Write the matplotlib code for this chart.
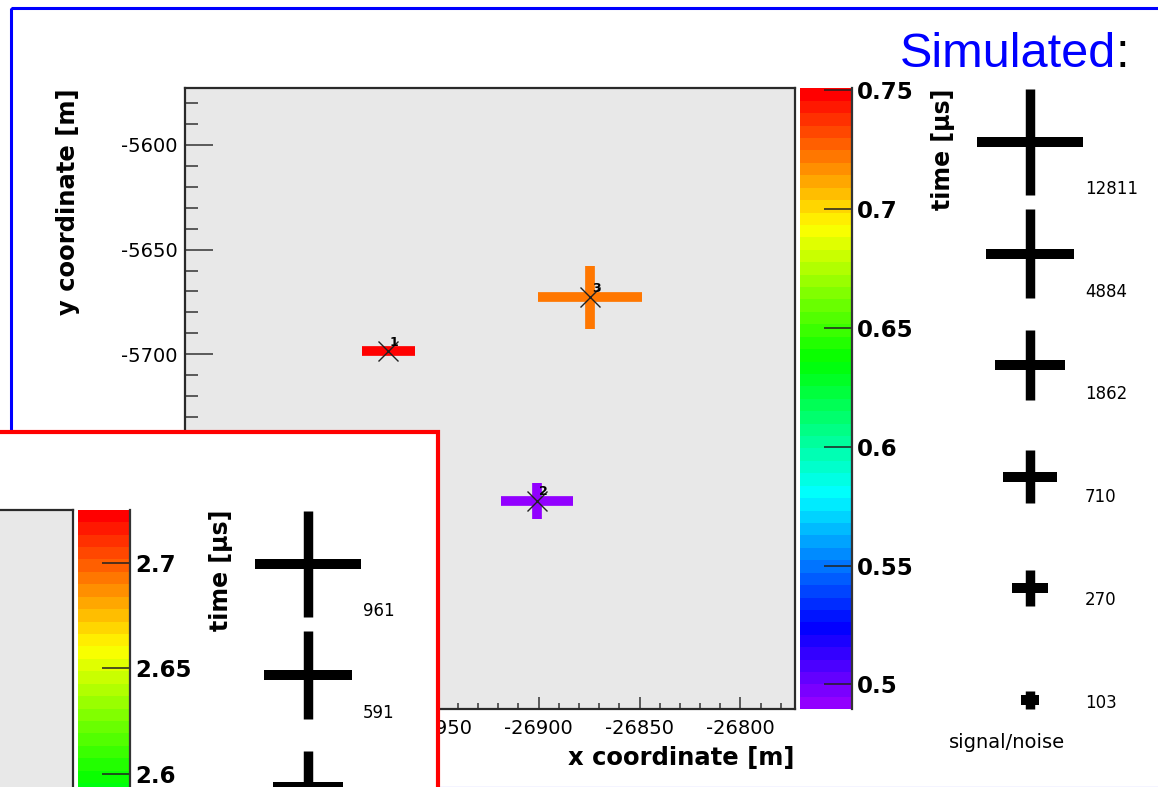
import colorsys
import matplotlib
matplotlib.use('Agg')
import matplotlib.pyplot as plt
from matplotlib.colors import ListedColormap, Normalize
from matplotlib.cm import ScalarMappable
from matplotlib.patches import Rectangle
from matplotlib.ticker import MultipleLocator, FuncFormatter

plt.rcParams['axes.unicode_minus'] = False
plt.rcParams['font.family'] = ['DejaVu Sans']

W, H = 1158, 787
DPI = 100

# reconstructed station positions [m], position errors [m] and pulse times [us]
station_ids = ['1', '2', '3']
station_x = [-26974.5, -26900.8, -26874.4]
station_y = [-5698.5, -5770.0, -5672.7]
station_xerr = [13.2, 17.7, 25.8]
station_yerr = [2.0, 8.7, 15.0]
station_time = [0.7508, 0.4895, 0.720]

x_range = (-27075.4, -26773.0)
y_range = (-5869.5, -5573.0)

time_ticks = [0.5, 0.55, 0.6, 0.65, 0.7, 0.75]
time_labels = ['0.5', '0.55', '0.6', '0.65', '0.7', '0.75']

# signal/noise values shown in the size key
sn_key = [12811, 4884, 1862, 710, 270, 103]

# second event (drawn in the red frame)
event2_time_range = (2.430, 2.7255)
event2_time_ticks = [2.6, 2.65, 2.7]
event2_time_labels = ['2.6', '2.65', '2.7']
event2_sn_key = [961, 591, 363]

# red frame corner (px from top-left); tick labels behind it are left out
frame2_right, frame2_top = 438, 432

# ROOT "pretty" palette: 49 HLS hues from violet to red, last one pure red
palette = []
for i in range(49):
    hue = 280 - (i + 1) * 280 / 50
    palette.append(colorsys.hls_to_rgb(hue / 360, 0.5, 1.0))
palette.append((1.0, 0.0, 0.0))
root_cmap = ListedColormap(palette)

fig = plt.figure(figsize=(W / DPI, H / DPI), dpi=DPI)


def px_axes(left, top, right, bottom):
    return fig.add_axes([left / W, 1 - bottom / H, (right - left) / W, (bottom - top) / H])


def overlay(z):
    ov = fig.add_axes([0, 0, 1, 1])
    ov.set_xlim(0, W)
    ov.set_ylim(H, 0)
    ov.axis('off')
    ov.set_zorder(z)
    return ov


def draw_panel(ov, dx, dy, t_range, t_ticks, t_labels, sn_values, z, stations=None):
    left, top, right, bottom = 184.5 + dx, 88.3 + dy, 795 + dx, 709.3 + dy
    ax = px_axes(left, top, right, bottom)
    ax.set_zorder(z)
    ax.set_facecolor('#e8e8e8')
    for s in ax.spines.values():
        s.set_color('#2a2a2a')
        s.set_linewidth(1.6)

    norm = Normalize(*t_range)

    if stations is not None:
        xs, ys, exs, eys, ts, ids = stations
        for xi, yi, ex, ey, t, sid in zip(xs, ys, exs, eys, ts, ids):
            c = root_cmap(norm(t))
            ax.errorbar(xi, yi, xerr=ex, yerr=ey, fmt='none', ecolor=c,
                        elinewidth=7.0, capsize=0)
            ax.plot(xi, yi, marker='x', ms=14, mew=1.0, color='#202020')
            ax.annotate(sid, (xi, yi), xytext=(6, 9), textcoords='offset pixels',
                        ha='center', va='center', fontsize=9, fontweight='bold')
        ax.set_xlim(*x_range)
        ax.set_ylim(*y_range)
        ax.xaxis.set_major_locator(MultipleLocator(50))
        ax.xaxis.set_minor_locator(MultipleLocator(10))
        ax.yaxis.set_major_locator(MultipleLocator(50))
        ax.yaxis.set_minor_locator(MultipleLocator(10))

        # pixel position of a value, to skip labels covered by the red frame
        def x_px(v):
            return left + (v - x_range[0]) / (x_range[1] - x_range[0]) * (right - left)

        def y_px(v):
            return bottom - (v - y_range[0]) / (y_range[1] - y_range[0]) * (bottom - top)

        ax.xaxis.set_major_formatter(FuncFormatter(
            lambda v, p: '' if x_px(v) < frame2_right - 10 else f'{v:.0f}'))
        ax.yaxis.set_major_formatter(FuncFormatter(
            lambda v, p: '' if y_px(v) > frame2_top - 8 else f'{v:.0f}'))
        ax.tick_params(axis='x', which='major', direction='in', length=9, width=1.1,
                       pad=6.8, labelsize=14, color='#333333', top=False)
        ax.tick_params(axis='x', which='minor', direction='in', length=4, width=1.1,
                       color='#333333', top=False)
        ax.tick_params(axis='y', which='major', direction='in', length=20, width=1.1,
                       pad=4.7, labelsize=14, color='#333333', right=False)
        ax.tick_params(axis='y', which='minor', direction='in', length=9.5, width=1.1,
                       color='#333333', right=False)
        ov.text(68.3 + dx, 88.3 + dy, 'y coordinate [m]', rotation=90, ha='center',
                va='top', fontsize=17.5, fontweight='bold')
        ov.text(794 + dx, 758 + dy, 'x coordinate [m]', ha='right', va='center',
                fontsize=17.5, fontweight='bold')
    else:
        ax.set_xticks([])
        ax.set_yticks([])

    # colour scale for the pulse time
    cax = px_axes(800 + dx, 88.3 + dy, 852 + dx, 709.3 + dy)
    cax.set_zorder(z)
    cb = fig.colorbar(ScalarMappable(norm=norm, cmap=root_cmap), cax=cax)
    cb.outline.set_visible(False)
    cb.set_ticks(t_ticks, labels=t_labels)
    cax.minorticks_off()
    cax.tick_params(direction='in', length=20.5, width=1.1, pad=3.6, labelsize=16.5,
                    color='#222222')
    for lab in cax.get_yticklabels():
        lab.set_fontweight('bold')
    cax.plot([1, 1], [0, 1], transform=cax.transAxes, color='#333333', lw=1.6,
             clip_on=False)

    ov.text(943 + dx, 88.3 + dy, 'time [µs]', rotation=90, ha='center', va='top',
            fontsize=17, fontweight='bold')

    # size key: cross size for each signal/noise value
    cx = 1030 + dx
    for i, sn in enumerate(sn_values):
        cy = 142 + dy + i * 111.5
        h = 53 - 8.8 * i
        ov.plot([cx - h, cx + h], [cy, cy], color='black', lw=7.2, solid_capstyle='butt')
        ov.plot([cx, cx], [cy - h, cy + h], color='black', lw=6.8, solid_capstyle='butt')
        if cy + h - 6 < H - 8:
            ov.text(cx + 55, cy + h - 6, str(sn), ha='left', va='center', fontsize=12)
    if 743 + dy < H:
        ov.text(1007 + dx, 743 + dy, 'signal/noise', ha='center', va='center', fontsize=14)
    return ax


# first event inside the blue frame
ov1 = overlay(0)
ov1.add_patch(Rectangle((11, 8.3), 1300, 900, facecolor='none', edgecolor='#0000ff',
                        lw=2.2))
ov1.plot([0, W], [786.5, 786.5], color='#a8a8ff', lw=0.9)
ov1.text(1116, 67, 'Simulated', ha='right', va='baseline', color='#0000ff',
         fontsize=35, family='Liberation Sans')
ov1.text(1116, 67, ':', ha='left', va='baseline', color='black', fontsize=35,
         family='Liberation Sans')
draw_panel(ov1, 0, 0, (min(station_time), max(station_time)), time_ticks, time_labels,
           sn_key, 1,
           stations=(station_x, station_y, station_xerr, station_yerr, station_time,
                     station_ids))

# second event in the red frame on top
ov2 = overlay(5)
ov2.add_patch(Rectangle((-20, frame2_top), frame2_right + 20, 500, facecolor='white',
                        edgecolor='#ff0000', lw=3.0))
draw_panel(ov2, -722, 421.5, event2_time_range, event2_time_ticks, event2_time_labels,
           event2_sn_key, 6)

fig.savefig('out.png', dpi=DPI)
